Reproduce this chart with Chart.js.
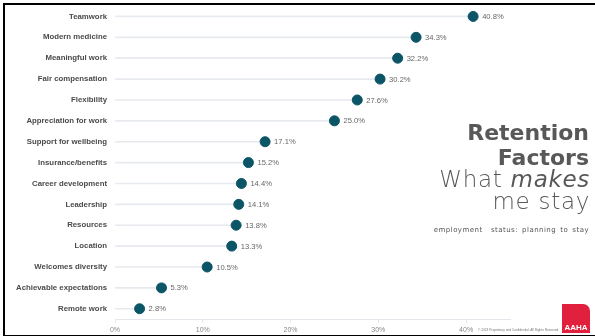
<!DOCTYPE html>
<html>
<head>
<meta charset="utf-8">
<script src="https://cdn.jsdelivr.net/npm/chart.js@4"></script>
<style>
  html,body{margin:0;padding:0;background:#fff;}
  #slide{position:relative;width:595px;height:336px;overflow:hidden;background:#fff;}
  #frame{position:absolute;left:3px;top:3px;width:600px;height:330px;border-top:2px solid #000;border-left:2px solid #000;border-bottom:2px solid #000;}
  #chartBox{position:absolute;left:0;top:0;width:520px;height:336px;}
  .t{position:absolute;right:6px;white-space:nowrap;color:#585858;text-align:right;}
  .bold{font-family:"DejaVu Sans";font-weight:700;font-size:22px;line-height:22px;}
  .light{font-family:"DejaVu Sans";font-weight:200;font-size:23px;line-height:23px;letter-spacing:0.7px;}
  .sub{font-family:"DejaVu Sans";font-size:7px;line-height:8px;color:#555;word-spacing:1.5px;letter-spacing:0.45px;}
  #copy{position:absolute;left:478px;top:328px;font-family:"Liberation Sans";font-size:3.2px;color:#777;white-space:nowrap;}
  #logo{position:absolute;left:562px;top:304px;width:28px;height:29px;background:#e0203c;border-radius:0 7px 0 0;color:#fff;font-family:"Liberation Sans";font-weight:700;font-size:8px;line-height:8px;text-align:center;}
  #logo span{position:absolute;left:0;right:0;bottom:1px;}
</style>
</head>
<body>
<div id="slide">
  <div id="chartBox"><canvas id="chart"></canvas></div>
  <div class="t bold" style="top:122px">Retention</div>
  <div class="t bold" style="top:147px">Factors</div>
  <div class="t light" style="top:168px;right:5px">What <i>makes</i></div>
  <div class="t light" style="top:190px;right:5px">me stay</div>
  <div class="t sub" style="top:226px">employment&nbsp; status: planning to stay</div>
  <div id="copy">© 2023 Proprietary and Confidential. All Rights Reserved</div>
  <div id="logo"><span>AAHA</span></div>
  <div id="frame"></div>
</div>
<script>
const factors = ['Teamwork','Modern medicine','Meaningful work','Fair compensation','Flexibility','Appreciation for work','Support for wellbeing','Insurance/benefits','Career development','Leadership','Resources','Location','Welcomes diversity','Achievable expectations','Remote work'];
const shares = [40.8, 34.3, 32.2, 30.2, 27.6, 25.0, 17.1, 15.2, 14.4, 14.1, 13.8, 13.3, 10.5, 5.3, 2.8];
const xTicks = [0, 10, 20, 30, 40];

const dotColor = '#0b5566';
const stickColor = '#e6e9ed';

const valueLabels = {
  id:'valueLabels',
  afterDatasetsDraw(chart){
    const ctx = chart.ctx;
    const meta = chart.getDatasetMeta(1);
    ctx.save();
    ctx.font = '7.6px "Liberation Sans", Arial, sans-serif';
    ctx.fillStyle = '#666';
    ctx.textAlign = 'left';
    ctx.textBaseline = 'middle';
    meta.data.forEach((pt,i)=>{
      ctx.fillText(shares[i].toFixed(1)+'%', pt.x + 9, pt.y + 0.5);
    });
    ctx.restore();
  }
};

new Chart(document.getElementById('chart'), {
  type:'bar',
  data:{
    labels:factors,
    datasets:[
      { type:'bar', indexAxis:'y', data:shares, backgroundColor:stickColor, barThickness:1, order:2 },
      { type:'line', indexAxis:'y', data:shares, showLine:false, pointRadius:5, pointHoverRadius:5,
        pointBackgroundColor:dotColor, pointBorderColor:dotColor, borderColor:dotColor, order:1 }
    ]
  },
  options:{
    indexAxis:'y',
    responsive:true,
    maintainAspectRatio:false,
    animation:false,
    layout:{ padding:{ top:4.6, right:10, bottom:-1.6, left:0 } },
    plugins:{ legend:{display:false}, tooltip:{enabled:false} },
    scales:{
      x:{
        min:0, max:45,
        afterBuildTicks(scale){ scale.ticks = xTicks.map(v=>({value:v})); },
        ticks:{ callback:v=>v+'%', color:'#888', font:{ family:'"Liberation Sans", Arial, sans-serif', size:7 }, padding:3, maxRotation:0 },
        grid:{ drawOnChartArea:false, drawTicks:true, tickLength:4, color:'#e4e7eb' },
        border:{ display:true, color:'#e4e7eb', width:1 }
      },
      y:{
        afterFit(scale){ scale.width = 115; scale.paddingTop = 0; scale.paddingBottom = 0; },
        ticks:{ color:'#4a4a4a', font:{ family:'"Liberation Sans", Arial, sans-serif', size:7.8, weight:'bold' }, padding:8 },
        grid:{ display:false, drawTicks:false },
        border:{ display:false }
      }
    }
  },
  plugins:[valueLabels]
});
</script>
</body>
</html>
